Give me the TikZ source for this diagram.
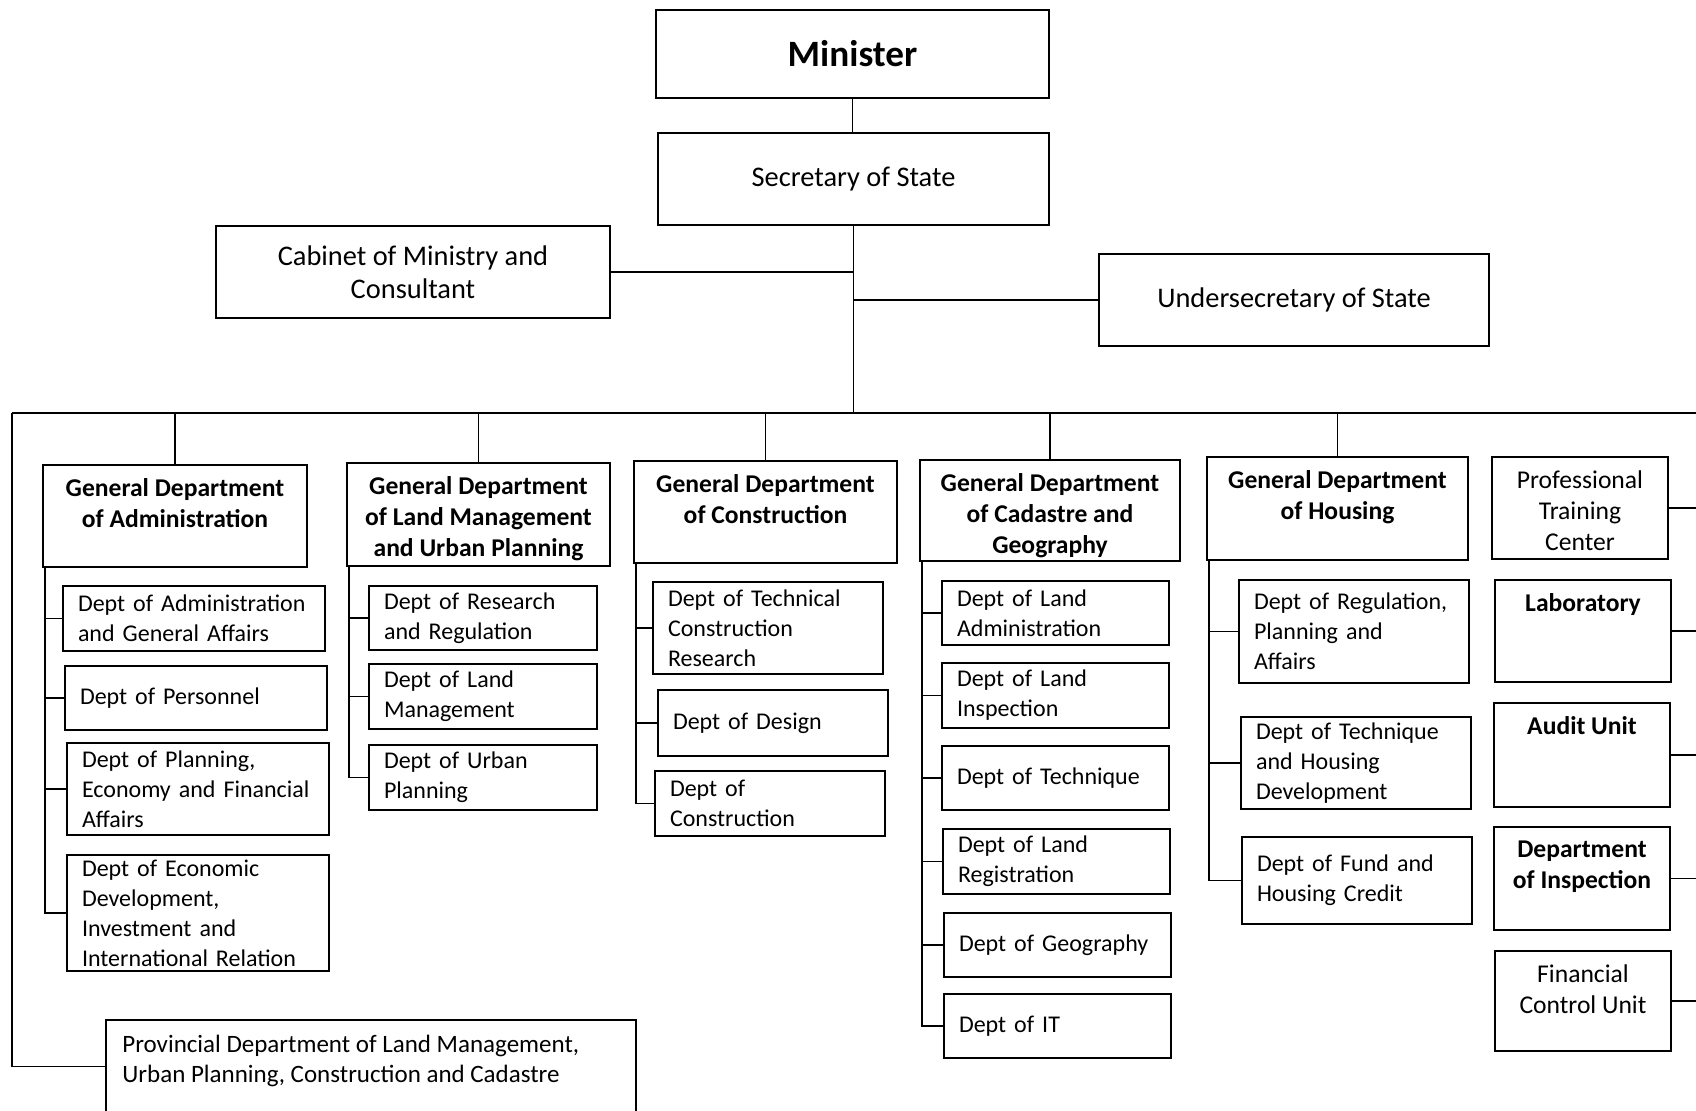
\documentclass[tikz,border=0pt]{standalone}
\usepackage{fontspec}
\setmainfont{Carlito}

\newcommand{\minfont}{\fontsize{18.6}{22}\selectfont\bfseries}
\newcommand{\topfont}{\fontsize{14.2}{16.5}\selectfont}
\newcommand{\gdfont}{\fontsize{12.8}{15.5}\selectfont\bfseries}
\newcommand{\unitfont}{\fontsize{12.8}{15.5}\selectfont}
\newcommand{\provfont}{\fontsize{12.5}{15}\selectfont}
\newcommand{\deptfont}{\fontsize{12}{15}\selectfont}

\begin{document}
\begin{tikzpicture}[x=0.5pt,y=-0.5pt,
    orgbox/.style={draw, line width=1pt, anchor=north west, inner sep=0pt},
    topbox/.style={orgbox, font=\topfont, align=center},
    headtext/.style={anchor=north, align=center, font=\gdfont, inner sep=7pt},
    deptbox/.style={draw, line width=1pt, anchor=north west, inner xsep=7.5pt, inner ysep=0pt, align=left, font=\deptfont},
    link/.style={line width=0.75pt}]
    \useasboundingbox[fill=white] (0,0) rectangle (1696,1110);

    % top of the ministry
    \node[topbox, font=\minfont, minimum width=196.5pt, minimum height=44pt] (minister) at (655,9) {Minister};
    \node[topbox, minimum width=195.5pt, minimum height=46pt] (secretary) at (657,132) {Secretary of State};
    \node[topbox, minimum width=197pt, minimum height=46pt] (cabinet) at (215,225) {Cabinet of Ministry and\\Consultant};
    \node[topbox, minimum width=195pt, minimum height=46pt] (undersec) at (1098,253) {Undersecretary of State};

    % general departments
    \node[orgbox, minimum width=132pt, minimum height=51pt,
        label={[headtext]north:General Department\\of Administration}] (gdadm) at (42,464) {};
    \node[orgbox, minimum width=131.5pt, minimum height=51.5pt,
        label={[headtext]north:General Department\\of Land Management\\and Urban Planning}] (gdland) at (346,462) {};
    \node[orgbox, minimum width=131.5pt, minimum height=51pt,
        label={[headtext]north:General Department\\of Construction}] (gdcons) at (633,460) {};
    \node[orgbox, minimum width=130pt, minimum height=50.5pt,
        label={[headtext]north:General Department\\of Cadastre and\\Geography}] (gdcad) at (919,459) {};
    \node[orgbox, minimum width=130.5pt, minimum height=51.5pt,
        label={[headtext]north:General Department\\of Housing}] (gdhous) at (1206,456) {};

    % units on the right
    \node[orgbox, minimum width=88pt, minimum height=51pt,
        label={[headtext, font=\unitfont]north:Professional\\Training\\Center}] (ptc) at (1491,456) {};
    \node[orgbox, minimum width=88pt, minimum height=51pt,
        label={[headtext]north:Laboratory}] (lab) at (1494,579) {};
    \node[orgbox, minimum width=88pt, minimum height=52pt,
        label={[headtext]north:Audit Unit}] (audit) at (1493,702) {};
    \node[orgbox, minimum width=88pt, minimum height=51.5pt,
        label={[headtext]north:Department\\of Inspection}] (insp) at (1493,826) {};
    \node[orgbox, minimum width=88pt, minimum height=50pt,
        label={[headtext, font=\unitfont]north:Financial\\Control Unit}] (fin) at (1494,950) {};

    % departments under administration
    \node[deptbox, text width=116pt, minimum height=32.5pt] (sa1) at (62,585) {Dept of Administration\\and General Affairs};
    \node[deptbox, text width=116pt, minimum height=32pt] (sa2) at (64,665) {Dept of Personnel};
    \node[deptbox, text width=116pt, minimum height=46pt] (sa3) at (66,742) {Dept of Planning,\\Economy and Financial\\Affairs};
    \node[deptbox, text width=116pt, minimum height=58pt] (sa4) at (66,854) {Dept of Economic\\Development,\\Investment and\\International Relation};

    % departments under land management
    \node[deptbox, text width=99pt, minimum height=32pt] (sl1) at (368,585) {Dept of Research\\and Regulation};
    \node[deptbox, text width=99pt, minimum height=32.5pt] (sl2) at (368,663) {Dept of Land\\Management};
    \node[deptbox, text width=99pt, minimum height=32.5pt] (sl3) at (368,744) {Dept of Urban\\Planning};

    % departments under construction
    \node[deptbox, text width=100pt, minimum height=46pt] (sc1) at (652,581) {Dept of Technical\\Construction\\Research};
    \node[deptbox, text width=100pt, minimum height=33pt] (sc2) at (657,689) {Dept of Design};
    \node[deptbox, text width=100pt, minimum height=32.5pt] (sc3) at (654,770) {Dept of\\Construction};

    % departments under cadastre
    \node[deptbox, text width=98.5pt, minimum height=32pt] (sk1) at (941,580) {Dept of Land\\Administration};
    \node[deptbox, text width=98.5pt, minimum height=32.5pt] (sk2) at (941,662) {Dept of Land\\Inspection};
    \node[deptbox, text width=98.5pt, minimum height=32pt] (sk3) at (941,745) {Dept of Technique};
    \node[deptbox, text width=98.5pt, minimum height=32.5pt] (sk4) at (942,828) {Dept of Land\\Registration};
    \node[deptbox, text width=98.5pt, minimum height=32pt] (sk5) at (943,912) {Dept of Geography};
    \node[deptbox, text width=98.5pt, minimum height=32pt] (sk6) at (943,993) {Dept of IT};

    % departments under housing
    \node[deptbox, text width=100pt, minimum height=51.5pt] (sh1) at (1238,579) {Dept of Regulation,\\Planning and\\Affairs};
    \node[deptbox, text width=100pt, minimum height=46pt] (sh2) at (1240,716) {Dept of Technique\\and Housing\\Development};
    \node[deptbox, text width=100pt, minimum height=43.5pt] (sh3) at (1241,836) {Dept of Fund and\\Housing Credit};

    \node[orgbox, minimum width=265pt, minimum height=46.5pt,
        label={[anchor=north west, align=left, font=\provfont, inner xsep=8.5pt, inner ysep=8pt]north west:Provincial Department of Land Management,\\Urban Planning, Construction and Cadastre}] (prov) at (105,1019) {};

    % trunk and bus
    \coordinate (busL) at (12,413);
    \coordinate (busR) at (1696,413);
    \draw[link] (minister.south) -- (minister.south |- secretary.north);
    \draw[link] (secretary.south) -- (secretary.south |- busL);
    \draw[link] (cabinet.east) -- (cabinet.east -| secretary.south);
    \draw[link] (undersec.west) -- (undersec.west -| secretary.south);
    \draw[link] (busL) -- (busR);
    \foreach \g in {gdadm,gdland,gdcons,gdcad,gdhous}
        \draw[link] (\g.north) -- (\g.north |- busL);
    \draw[link] (busL) |- (prov.west); % provinces
    \foreach \u in {ptc,lab,audit,insp,fin}
        \draw[link] (\u.east) -- (\u.east -| busR);

    % rails down the left of each column
    \coordinate (railA) at ([xshift=1.5pt]gdadm.south west);
    \coordinate (railL) at ([xshift=1.5pt]gdland.south west);
    \coordinate (railC) at ([xshift=1.5pt]gdcons.south west);
    \coordinate (railK) at ([xshift=1.5pt]gdcad.south west);
    \coordinate (railH) at ([xshift=1.5pt]gdhous.south west);
    \draw[link] (railA) |- (sa4.west);
    \foreach \d in {sa1,sa2,sa3} \draw[link] (\d.west -| railA) -- (\d.west);
    \draw[link] (railL) |- (sl3.west);
    \foreach \d in {sl1,sl2} \draw[link] (\d.west -| railL) -- (\d.west);
    \draw[link] (railC) |- (sc3.west);
    \foreach \d in {sc1,sc2} \draw[link] (\d.west -| railC) -- (\d.west);
    \draw[link] (railK) |- (sk6.west);
    \foreach \d in {sk1,sk2,sk3,sk4,sk5} \draw[link] (\d.west -| railK) -- (\d.west);
    \draw[link] (railH) |- (sh3.west);
    \foreach \d in {sh1,sh2} \draw[link] (\d.west -| railH) -- (\d.west);
\end{tikzpicture}
\end{document}
